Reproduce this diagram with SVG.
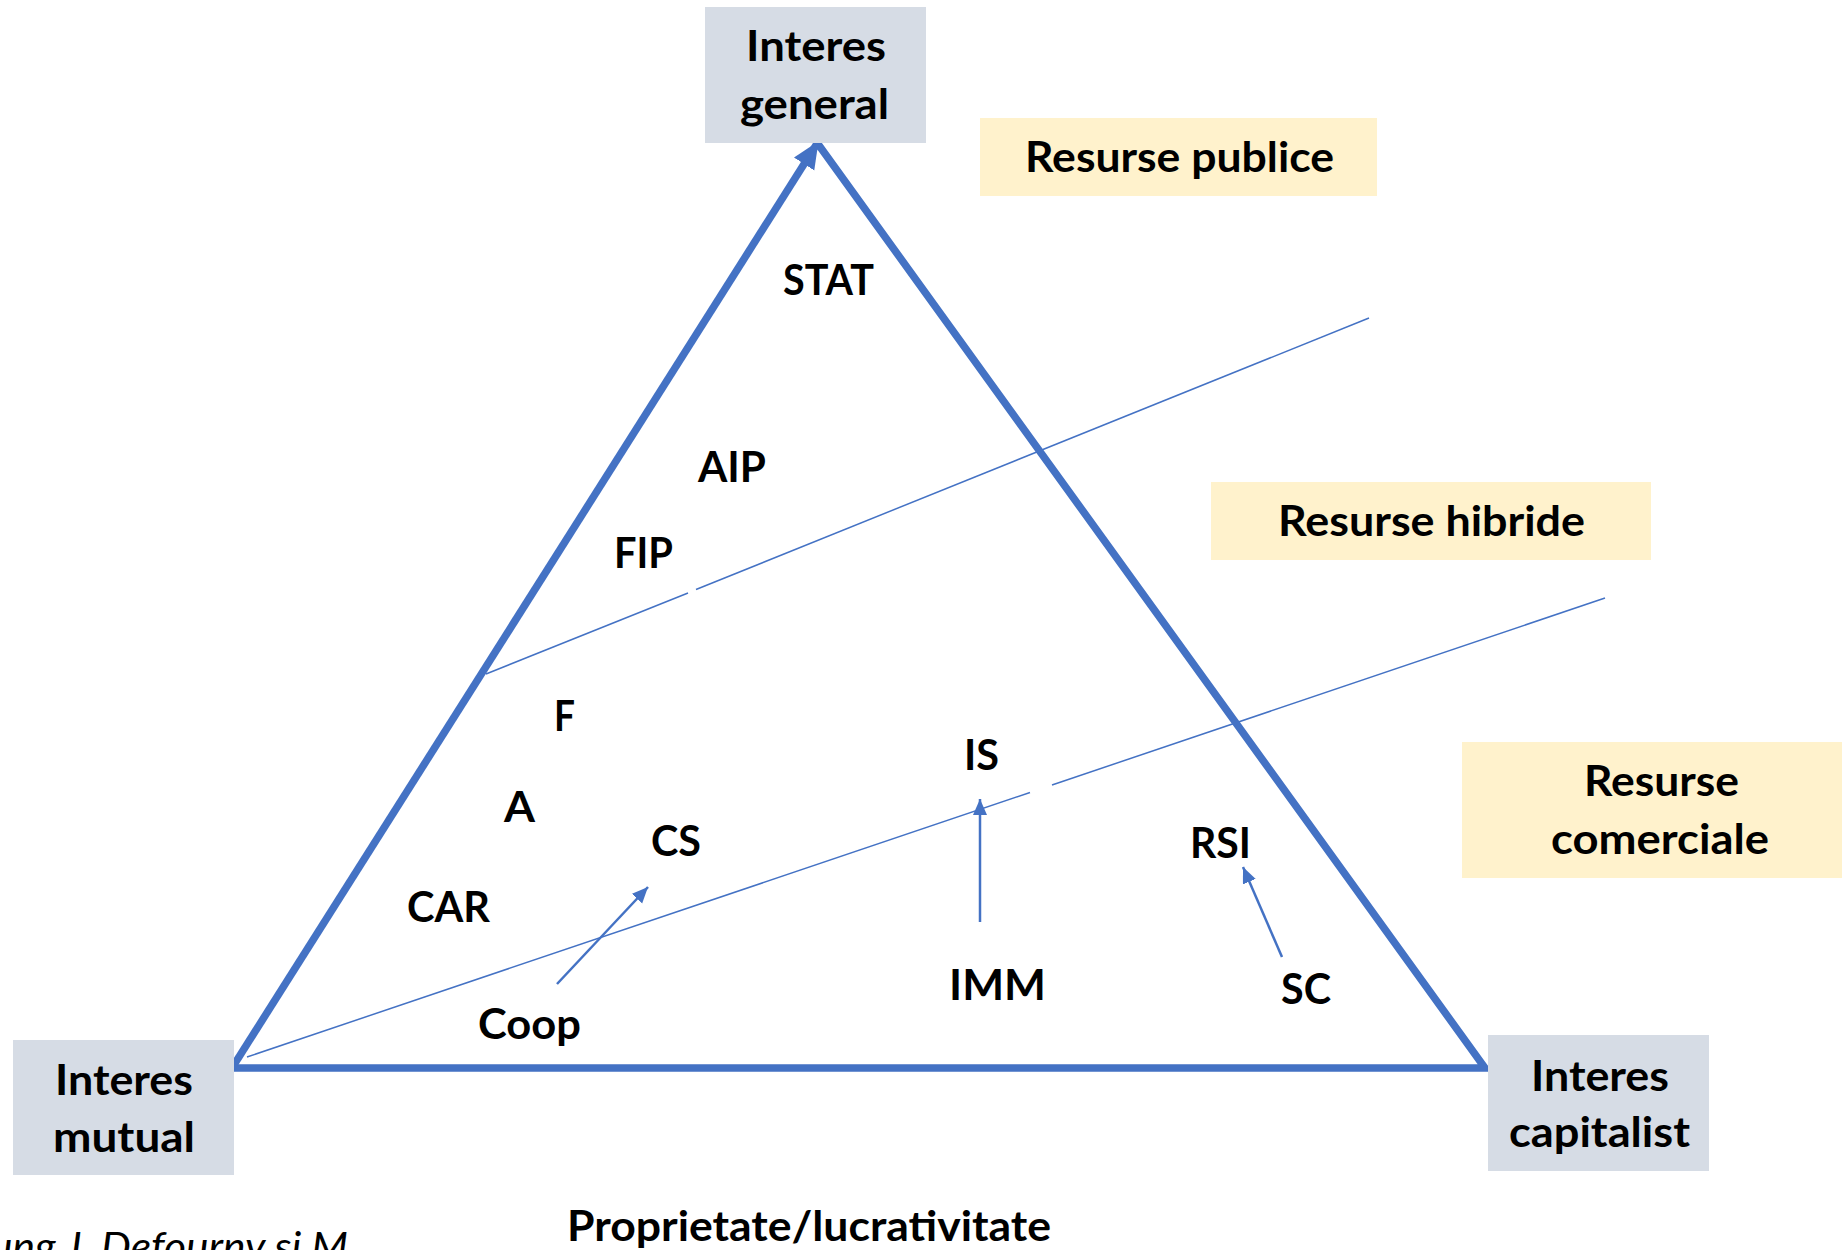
<svg xmlns="http://www.w3.org/2000/svg" width="1842" height="1250" viewBox="0 0 1842 1250">
<style>
.lbl{font-family:Lato,"Open Sans","Liberation Sans",sans-serif;font-weight:bold;font-size:42px;fill:#000}
.grey{fill:#D6DCE5}
.yel{fill:#FFF2CC}
.side{stroke:#4472C4;stroke-width:7.5;fill:none}
.thin{stroke:#4472C4;stroke-width:1.5;fill:none}
.arr{stroke:#4472C4;stroke-width:2.5;fill:none}
.note{font-family:Lato,"Open Sans","Liberation Sans",sans-serif;font-style:italic;font-size:40px;fill:#000}
</style>
<defs>
<marker id="bigHead" markerUnits="userSpaceOnUse" markerWidth="30" markerHeight="26" refX="26" refY="12" orient="auto">
<path d="M0,0 L27,12 L0,24 z" fill="#4472C4"/>
</marker>
<marker id="smallHead" markerUnits="userSpaceOnUse" markerWidth="18" markerHeight="16" refX="16" refY="7" orient="auto">
<path d="M0,0 L16,7 L0,14 z" fill="#4472C4"/>
</marker>
</defs>
<rect width="1842" height="1250" fill="#fff"/>

<g id="connectors">
<line class="thin" x1="486" y1="674" x2="688" y2="593"/>
<line class="thin" x1="696" y1="589.5" x2="1369" y2="318"/>
<line class="thin" x1="247" y1="1057" x2="1030" y2="792.5"/>
<line class="thin" x1="1052" y1="785" x2="1605" y2="598"/>
<path class="side" d="M818,144 L1485,1068 L232,1068" stroke-linejoin="miter"/>
<line class="side" x1="232" y1="1068" x2="818" y2="142" marker-end="url(#bigHead)"/>
<line class="arr" x1="557" y1="984" x2="648" y2="887" marker-end="url(#smallHead)"/>
<line class="arr" x1="980" y1="922" x2="980" y2="799" marker-end="url(#smallHead)"/>
<line class="arr" x1="1282" y1="957" x2="1243" y2="867" marker-end="url(#smallHead)"/>
</g>

<g id="interes-general">
<rect class="grey" x="705" y="7" width="221" height="136"/>
<text class="lbl" x="746" y="61" textLength="140" lengthAdjust="spacingAndGlyphs">Interes</text>
<text class="lbl" x="740" y="119" textLength="149" lengthAdjust="spacingAndGlyphs">general</text>
</g>
<g id="interes-mutual">
<rect class="grey" x="13" y="1040" width="221" height="135"/>
<text class="lbl" x="55" y="1095" textLength="138" lengthAdjust="spacingAndGlyphs">Interes</text>
<text class="lbl" x="53" y="1152" textLength="142" lengthAdjust="spacingAndGlyphs">mutual</text>
</g>
<g id="interes-capitalist">
<rect class="grey" x="1488" y="1035" width="221" height="136"/>
<text class="lbl" x="1531" y="1091" textLength="138" lengthAdjust="spacingAndGlyphs">Interes</text>
<text class="lbl" x="1509" y="1147" textLength="181" lengthAdjust="spacingAndGlyphs">capitalist</text>
</g>
<g id="resurse-publice">
<rect class="yel" x="980" y="118" width="397" height="78"/>
<text class="lbl" x="1025" y="172" textLength="309" lengthAdjust="spacingAndGlyphs">Resurse publice</text>
</g>
<g id="resurse-hibride">
<rect class="yel" x="1211" y="482" width="440" height="78"/>
<text class="lbl" x="1278" y="536" textLength="307" lengthAdjust="spacingAndGlyphs">Resurse hibride</text>
</g>
<g id="resurse-comerciale">
<rect class="yel" x="1462" y="742" width="380" height="136"/>
<text class="lbl" x="1584" y="796" textLength="155" lengthAdjust="spacingAndGlyphs">Resurse</text>
<text class="lbl" x="1551" y="854" textLength="218" lengthAdjust="spacingAndGlyphs">comerciale</text>
</g>

<g id="STAT"><text class="lbl" x="783" y="295" textLength="91" lengthAdjust="spacingAndGlyphs">STAT</text></g>
<g id="AIP"><text class="lbl" x="698" y="482" textLength="68" lengthAdjust="spacingAndGlyphs">AIP</text></g>
<g id="FIP"><text class="lbl" x="614" y="568" textLength="59" lengthAdjust="spacingAndGlyphs">FIP</text></g>
<g id="F"><text class="lbl" x="554" y="731" textLength="21" lengthAdjust="spacingAndGlyphs">F</text></g>
<g id="A"><text class="lbl" x="504" y="822" textLength="31" lengthAdjust="spacingAndGlyphs">A</text></g>
<g id="CS"><text class="lbl" x="651" y="856" textLength="50" lengthAdjust="spacingAndGlyphs">CS</text></g>
<g id="CAR"><text class="lbl" x="407" y="922" textLength="83" lengthAdjust="spacingAndGlyphs">CAR</text></g>
<g id="Coop"><text class="lbl" x="478" y="1039" textLength="103" lengthAdjust="spacingAndGlyphs">Coop</text></g>
<g id="IS"><text class="lbl" x="964" y="770" textLength="35" lengthAdjust="spacingAndGlyphs">IS</text></g>
<g id="RSI"><text class="lbl" x="1190" y="858" textLength="61" lengthAdjust="spacingAndGlyphs">RSI</text></g>
<g id="IMM"><text class="lbl" x="949" y="1000" textLength="97" lengthAdjust="spacingAndGlyphs">IMM</text></g>
<g id="SC"><text class="lbl" x="1281" y="1004" textLength="50" lengthAdjust="spacingAndGlyphs">SC</text></g>

<g id="axis-label"><text class="lbl" x="567" y="1241" font-size="41" textLength="484" lengthAdjust="spacingAndGlyphs">Proprietate/lucrativitate</text></g>
<g id="source-note"><text class="note" x="-10" y="1261" textLength="358" lengthAdjust="spacingAndGlyphs">ung J. Defourny si M</text></g>
</svg>
